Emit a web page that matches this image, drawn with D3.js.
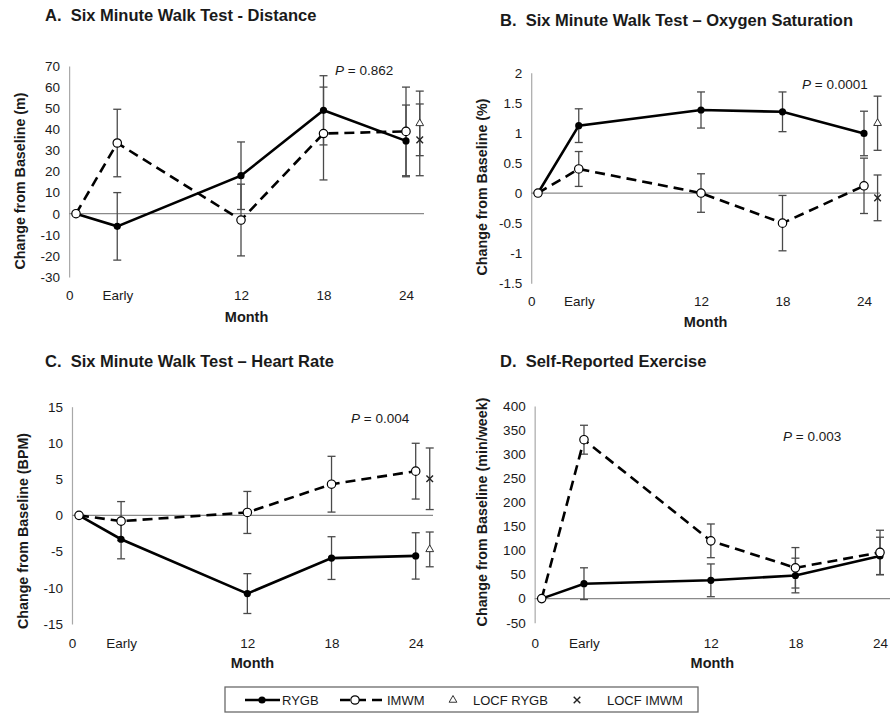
<!DOCTYPE html>
<html>
<head>
<meta charset="utf-8">
<script src="https://cdn.jsdelivr.net/npm/d3@7"></script>
<style>
  body { margin: 0; background: #fff; }
  text { font-family: "Liberation Sans", Arial, sans-serif; fill: #1a1a1a; }
</style>
</head>
<body>
<svg id="chart" width="890" height="713"></svg>
<script>
// Time points shared by every panel
const monthLabels = ["0", "Early", "12", "18", "24"];
const months = [0, 3, 12, 18, 24];
const labelMonths = [-0.5, 3, 12, 18, 24];
const locfMonth = 25;

// A. Six minute walk test - distance (m)
const distTicks = [70, 60, 50, 40, 30, 20, 10, 0, -10, -20, -30];
const distRygb = [0, -6, 18, 49, 34.5];
const distRygbErr = [0, 16, 16, 16.4, 17];
const distImwm = [0, 33.5, -3, 38, 39];
const distImwmErr = [0, 16, 17, 22, 21];
const distLocfRygb = [42.8, 15.3];
const distLocfImwm = [35, 17];

// B. Oxygen saturation (%)
const oxyTicks = [2, 1.5, 1, 0.5, 0, -0.5, -1, -1.5];
const oxyRygb = [0, 1.12, 1.38, 1.35, 0.99];
const oxyRygbErr = [0, 0.28, 0.3, 0.33, 0.37];
const oxyImwm = [0, 0.4, 0, -0.5, 0.12];
const oxyImwmErr = [0, 0.29, 0.32, 0.46, 0.46];
const oxyLocfRygb = [1.16, 0.45];
const oxyLocfImwm = [-0.08, 0.38];

// C. Heart rate (BPM)
const hrTicks = [15, 10, 5, 0, -5, -10, -15];
const hrRygb = [0, -3.3, -10.8, -5.9, -5.6];
const hrRygbErr = [0, 2.7, 2.75, 2.95, 3.2];
const hrImwm = [0, -0.8, 0.4, 4.3, 6.1];
const hrImwmErr = [0, 2.7, 2.9, 3.85, 3.85];
const hrLocfRygb = [-4.7, 2.4];
const hrLocfImwm = [5.05, 4.25];

// D. Self-reported exercise (min/week)
const exTicks = [400, 350, 300, 250, 200, 150, 100, 50, 0, -50];
const exRygb = [0, 31, 38, 48, 88.5];
const exRygbErr = [0, 33, 34, 36, 39];
const exImwm = [0, 330, 120, 64, 96];
const exImwmErr = [0, 30, 35, 42, 46];

const panels = [
  {
    title: "A.\u00a0 Six Minute Walk Test - Distance", yTitle: "Change from Baseline (m)",
    pText: " = 0.862", ticks: distTicks,
    rygb: distRygb, rygbErr: distRygbErr, imwm: distImwm, imwmErr: distImwmErr,
    locfRygb: distLocfRygb, locfImwm: distLocfImwm,
    x0: 76, x24: 406, top: 66, bottom: 277, zeroEnd: 424,
    titleX: 45, titleY: 21, yTitleX: 20, yTitleY: 181,
    labelPad: 13, monthY: 322, pX: 335, pY: 75
  },
  {
    title: "B.\u00a0 Six Minute Walk Test \u2013 Oxygen Saturation", yTitle: "Change from Baseline (%)",
    pText: " = 0.0001", ticks: oxyTicks,
    rygb: oxyRygb, rygbErr: oxyRygbErr, imwm: oxyImwm, imwmErr: oxyImwmErr,
    locfRygb: oxyLocfRygb, locfImwm: oxyLocfImwm,
    x0: 538, x24: 864, top: 72.7, bottom: 283.3, zeroEnd: 880,
    titleX: 500, titleY: 26, yTitleX: 482, yTitleY: 187,
    labelPad: 13, monthY: 327, pX: 802, pY: 89
  },
  {
    title: "C.\u00a0 Six Minute Walk Test \u2013 Heart Rate", yTitle: "Change from Baseline (BPM)",
    pText: " = 0.004", ticks: hrTicks,
    rygb: hrRygb, rygbErr: hrRygbErr, imwm: hrImwm, imwmErr: hrImwmErr,
    locfRygb: hrLocfRygb, locfImwm: hrLocfImwm,
    x0: 79, x24: 415.7, top: 406.7, bottom: 624, zeroEnd: 433,
    titleX: 45, titleY: 367, yTitleX: 23, yTitleY: 531,
    labelPad: 14.5, monthY: 668, pX: 351, pY: 423
  },
  {
    title: "D.\u00a0 Self-Reported Exercise", yTitle: "Change from Baseline (min/week)",
    pText: " = 0.003", ticks: exTicks,
    rygb: exRygb, rygbErr: exRygbErr, imwm: exImwm, imwmErr: exImwmErr,
    locfRygb: null, locfImwm: null,
    x0: 541.7, x24: 880, top: 406, bottom: 622.7, zeroEnd: 890,
    titleX: 500, titleY: 367, yTitleX: 482, yTitleY: 512,
    labelPad: 15.5, monthY: 668, pX: 783, pY: 441
  }
];

const svg = d3.select("#chart");
const FONT = '"Liberation Sans", Arial, sans-serif';

const drawErrorBar = (g, xPos, yLo, yHi) => {
  const cap = 4;
  g.append("line").attr("x1", xPos).attr("x2", xPos).attr("y1", yLo).attr("y2", yHi);
  g.append("line").attr("x1", xPos - cap).attr("x2", xPos + cap).attr("y1", yLo).attr("y2", yLo);
  g.append("line").attr("x1", xPos - cap).attr("x2", xPos + cap).attr("y1", yHi).attr("y2", yHi);
};

const timesSymbol = d3.symbolTimes || d3.symbolX;

const drawPanel = (p) => {
  const x = d3.scaleLinear().domain([0, 24]).range([p.x0, p.x24]);
  const y = d3.scaleLinear().domain([p.ticks[0], p.ticks[p.ticks.length - 1]]).range([p.top, p.bottom]);
  const axisX = x(labelMonths[0]);
  const g = svg.append("g");

  // title
  g.append("text").attr("x", p.titleX).attr("y", p.titleY)
    .style("font-size", "16.5px").style("font-weight", "bold").text(p.title);

  // y axis
  const yAxis = g.append("g").attr("transform", `translate(${axisX},0)`)
    .call(d3.axisLeft(y).tickValues(p.ticks).tickSize(0).tickPadding(9)
      .tickFormat((d) => String(d)));
  yAxis.select(".domain").attr("stroke", "#a8a8a8").attr("stroke-width", 1.2);
  yAxis.selectAll("text").style("font-size", "13.5px").style("font-family", FONT).attr("fill", "#1a1a1a");

  // x labels
  const xAxis = g.append("g").attr("transform", `translate(0,${p.bottom})`)
    .call(d3.axisBottom(x).tickValues(labelMonths).tickSize(0).tickPadding(p.labelPad)
      .tickFormat((d, i) => monthLabels[i]));
  xAxis.select(".domain").remove();
  xAxis.selectAll("text").style("font-size", "13.5px").style("font-family", FONT).attr("fill", "#1a1a1a");

  g.append("text").attr("x", (axisX + p.zeroEnd) / 2).attr("y", p.monthY)
    .attr("text-anchor", "middle").style("font-size", "14.5px").style("font-weight", "bold").text("Month");

  g.append("text")
    .attr("transform", `translate(${p.yTitleX},${p.yTitleY}) rotate(-90)`)
    .attr("text-anchor", "middle").attr("dy", "0.35em")
    .style("font-size", "14.3px").style("font-weight", "bold").text(p.yTitle);

  // zero reference line
  g.append("line").attr("x1", axisX).attr("x2", p.zeroEnd).attr("y1", y(0)).attr("y2", y(0))
    .attr("stroke", "#8a8a8a").attr("stroke-width", 1.3);

  // error bars
  const bars = g.append("g").attr("stroke", "#4a4a4a").attr("stroke-width", 1.3);
  months.forEach((m, i) => {
    if (p.rygbErr[i] > 0) drawErrorBar(bars, x(m), y(p.rygb[i] - p.rygbErr[i]), y(p.rygb[i] + p.rygbErr[i]));
    if (p.imwmErr[i] > 0) drawErrorBar(bars, x(m), y(p.imwm[i] - p.imwmErr[i]), y(p.imwm[i] + p.imwmErr[i]));
  });
  if (p.locfRygb) {
    drawErrorBar(bars, x(locfMonth), y(p.locfRygb[0] - p.locfRygb[1]), y(p.locfRygb[0] + p.locfRygb[1]));
    drawErrorBar(bars, x(locfMonth), y(p.locfImwm[0] - p.locfImwm[1]), y(p.locfImwm[0] + p.locfImwm[1]));
  }

  const line = (vals) => d3.line().x((d, i) => x(months[i])).y((d) => y(d))(vals);

  g.append("path").attr("d", line(p.imwm)).attr("fill", "none")
    .attr("stroke", "#000").attr("stroke-width", 2.6).attr("stroke-dasharray", "10,6");
  g.append("path").attr("d", line(p.rygb)).attr("fill", "none")
    .attr("stroke", "#000").attr("stroke-width", 2.6);

  g.selectAll(".rygb-pt").data(p.rygb).enter().append("circle")
    .attr("cx", (d, i) => x(months[i])).attr("cy", (d) => y(d)).attr("r", 3.6).attr("fill", "#000");
  g.selectAll(".imwm-pt").data(p.imwm).enter().append("circle")
    .attr("cx", (d, i) => x(months[i])).attr("cy", (d) => y(d)).attr("r", 4.2)
    .attr("fill", "#fff").attr("stroke", "#000").attr("stroke-width", 1.2);

  if (p.locfRygb) {
    g.append("path").attr("d", d3.symbol(d3.symbolTriangle, 26)())
      .attr("transform", `translate(${x(locfMonth)},${y(p.locfRygb[0])})`)
      .attr("fill", "#fff").attr("stroke", "#333").attr("stroke-width", 1);
    g.append("path").attr("d", d3.symbol(timesSymbol, 30)())
      .attr("transform", `translate(${x(locfMonth)},${y(p.locfImwm[0])})`)
      .attr("fill", "none").attr("stroke", "#222").attr("stroke-width", 1.4);
  }

  // p value
  const pt = g.append("text").attr("x", p.pX).attr("y", p.pY).style("font-size", "13.5px");
  pt.append("tspan").style("font-style", "italic").text("P");
  pt.append("tspan").text(p.pText);
};

panels.forEach(drawPanel);

// legend
const legendItems = ["RYGB", "IMWM", "LOCF RYGB", "LOCF IMWM"];
const legendX = [282, 387, 473, 607];
const lg = svg.append("g");
lg.append("rect").attr("x", 225).attr("y", 687).attr("width", 473).attr("height", 25)
  .attr("fill", "#fff").attr("stroke", "#6a6a6a").attr("stroke-width", 1.3);
const ly = 700;
lg.append("line").attr("x1", 245).attr("x2", 280).attr("y1", ly).attr("y2", ly)
  .attr("stroke", "#000").attr("stroke-width", 2.6);
lg.append("circle").attr("cx", 262).attr("cy", ly).attr("r", 3.6).attr("fill", "#000");
lg.append("line").attr("x1", 340).attr("x2", 382).attr("y1", ly).attr("y2", ly)
  .attr("stroke", "#000").attr("stroke-width", 2.6).attr("stroke-dasharray", "10,6");
lg.append("circle").attr("cx", 355).attr("cy", ly).attr("r", 4.2)
  .attr("fill", "#fff").attr("stroke", "#000").attr("stroke-width", 1.2);
lg.append("path").attr("d", d3.symbol(d3.symbolTriangle, 26)())
  .attr("transform", `translate(453,${ly})`).attr("fill", "#fff").attr("stroke", "#333");
lg.append("path").attr("d", d3.symbol(timesSymbol, 30)())
  .attr("transform", `translate(577,${ly})`).attr("fill", "none").attr("stroke", "#222").attr("stroke-width", 1.4);
lg.selectAll(".lt").data(legendItems).enter().append("text")
  .attr("x", (d, i) => legendX[i]).attr("y", ly).attr("dy", "0.36em")
  .style("font-size", "13px").text((d) => d);
</script>
</body>
</html>
